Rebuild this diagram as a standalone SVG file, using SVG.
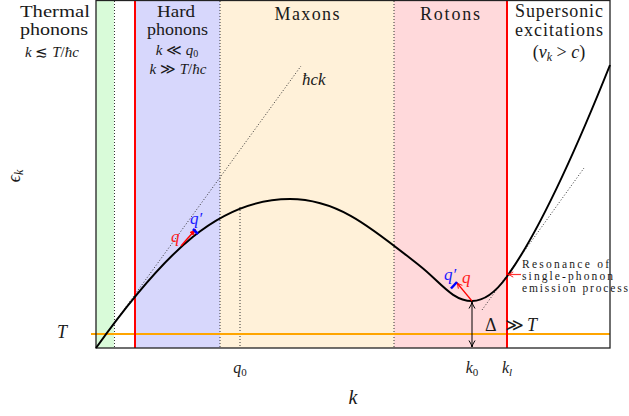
<svg xmlns="http://www.w3.org/2000/svg" width="629" height="416" viewBox="0 0 629 416">
<defs>
<style>
.t{font-family:"Liberation Serif","DejaVu Serif",serif;fill:#1a1a1a}
.reg{font-size:18px;text-anchor:middle}
.reg2{font-size:16px;text-anchor:middle}
.m{font-style:italic}
.dot{stroke:#333;stroke-width:1;stroke-dasharray:1 2;fill:none}
.redl{stroke:#ff0000;stroke-width:2}
</style>
<marker id="ah" viewBox="0 0 8 8" refX="7.5" refY="4" markerWidth="8" markerHeight="8" orient="auto-start-reverse" markerUnits="userSpaceOnUse">
<path d="M1,1 Q5,3.6 7.5,4 Q5,4.4 1,7" fill="none" stroke="#000" stroke-width="1"/>
</marker>
<marker id="ahr" viewBox="0 0 8 8" refX="7" refY="4" markerWidth="7" markerHeight="7" orient="auto" markerUnits="userSpaceOnUse">
<path d="M0,1 L8,4 L0,7 Z" fill="#ff0000"/>
</marker>
<marker id="ahr2" viewBox="0 0 8 8" refX="7" refY="4" markerWidth="7" markerHeight="7" orient="auto" markerUnits="userSpaceOnUse">
<path d="M1,1 Q5,3.6 7.5,4 Q5,4.4 1,7" fill="none" stroke="#ff0000" stroke-width="1"/>
</marker>
</defs>
<rect width="629" height="416" fill="#ffffff"/>
<g id="regions">
<rect x="96" y="0" width="18" height="348" fill="#d9fbd9"/>
<rect x="135" y="0" width="85" height="348" fill="#d7d7fc"/>
<rect x="220" y="0" width="174" height="348" fill="#fff1d9"/>
<rect x="394" y="0" width="113" height="348" fill="#ffd9db"/>
</g>
<g id="guides">
<line class="dot" x1="114.5" y1="1" x2="114.5" y2="348"/>
<line class="dot" x1="220" y1="1" x2="220" y2="348"/>
<line class="dot" x1="394" y1="1" x2="394" y2="348"/>
<line class="dot" x1="240" y1="207" x2="240" y2="348"/>
<line class="dot" x1="96" y1="348" x2="301" y2="66"/>
<line class="dot" x1="482" y1="310" x2="584" y2="168"/>
<line x1="91" y1="334" x2="610" y2="334" stroke="#ffa500" stroke-width="2"/>
<line class="redl" x1="135" y1="0" x2="135" y2="348"/>
<line class="redl" x1="507" y1="0" x2="507" y2="348"/>
</g>
<rect id="frame" x="96" y="0.5" width="514" height="347.5" fill="none" stroke="#222" stroke-width="1.3"/>
<path id="dispersion" d="M96,348 C166,250 220,199 290,199 C340,199 375,231 420,266 C440,281.6 452,301 472,301 C484,301 495,293.2 507,276.5 C542,227.8 580,140 610,65" fill="none" stroke="#000" stroke-width="2"/>
<g id="connectors">
<line x1="181" y1="246" x2="195.5" y2="229.5" stroke="#ff0000" stroke-width="1.5" marker-end="url(#ahr)"/>
<line x1="193" y1="229" x2="198" y2="234" stroke="#0000ff" stroke-width="2.5"/>
<line x1="472" y1="301" x2="457" y2="283" stroke="#ff0000" stroke-width="1.2" marker-end="url(#ahr2)"/>
<line x1="451" y1="288.5" x2="457" y2="282" stroke="#0000ff" stroke-width="2.5"/>
<line x1="472" y1="302" x2="472" y2="347" stroke="#000" stroke-width="1" marker-start="url(#ah)" marker-end="url(#ah)"/>
<line x1="521" y1="274.5" x2="508" y2="274.5" stroke="#ff3030" stroke-width="1.2" marker-end="url(#ahr2)"/>
</g>
<g id="label-thermal" class="t">
<text class="reg2" x="55" y="17" textLength="70" lengthAdjust="spacingAndGlyphs">Thermal</text>
<text class="reg2" x="54" y="35" textLength="68" lengthAdjust="spacingAndGlyphs">phonons</text>
<text x="52" y="57" font-size="15" text-anchor="middle"><tspan class="m">k</tspan> ≲ <tspan class="m">T</tspan>/<tspan class="m">ħc</tspan></text>
</g>
<g id="label-hard" class="t">
<text class="reg2" x="176" y="17" textLength="38" lengthAdjust="spacingAndGlyphs">Hard</text>
<text class="reg2" x="177.5" y="35" textLength="61" lengthAdjust="spacingAndGlyphs">phonons</text>
<text x="177" y="55" font-size="15" text-anchor="middle"><tspan class="m">k</tspan> ≪ <tspan class="m">q</tspan><tspan font-size="10" dy="2">0</tspan></text>
<text x="178" y="74" font-size="15" text-anchor="middle"><tspan class="m">k</tspan> ≫ <tspan class="m">T</tspan>/<tspan class="m">ħc</tspan></text>
</g>
<g id="label-maxons" class="t"><text class="reg" x="307" y="20" textLength="65" lengthAdjust="spacing">Maxons</text></g>
<g id="label-rotons" class="t"><text class="reg" x="450" y="20" textLength="60" lengthAdjust="spacing">Rotons</text></g>
<g id="label-supersonic" class="t">
<text class="reg" x="559" y="17" textLength="88" lengthAdjust="spacing">Supersonic</text>
<text class="reg" x="559" y="36" textLength="88" lengthAdjust="spacing">excitations</text>
<text x="559" y="58" font-size="18" text-anchor="middle">(<tspan class="m">v</tspan><tspan class="m" font-size="12" dy="3">k</tspan><tspan dy="-3"> &gt; </tspan><tspan class="m">c</tspan>)</text>
</g>
<g id="axis-labels" class="t">
<text class="m" x="302" y="85" font-size="17">ħck</text>
<text transform="translate(20,176) rotate(-90)" font-size="18" text-anchor="middle"><tspan class="m">ϵ</tspan><tspan class="m" font-size="12" dy="3">k</tspan></text>
<text class="m" x="62" y="338" font-size="18" text-anchor="middle">T</text>
<text x="240" y="373" font-size="16" text-anchor="middle"><tspan class="m">q</tspan><tspan font-size="11" dy="3">0</tspan></text>
<text x="472" y="373" font-size="16" text-anchor="middle"><tspan class="m">k</tspan><tspan font-size="11" dy="3">0</tspan></text>
<text x="507" y="373" font-size="16" text-anchor="middle"><tspan class="m">k</tspan><tspan class="m" font-size="11" dy="3">l</tspan></text>
<text class="m" x="353" y="404" font-size="20" text-anchor="middle">k</text>
<text x="485" y="331" font-size="18">Δ</text>
<text x="505" y="331" font-size="18">≫</text>
<text class="m" x="527" y="331" font-size="18">T</text>
</g>
<g id="label-resonance" class="t" font-size="11.5" fill="#333">
<text x="522" y="268" textLength="87" lengthAdjust="spacing">Resonance of</text>
<text x="522" y="280" textLength="91" lengthAdjust="spacing">single-phonon</text>
<text x="522" y="292" textLength="106" lengthAdjust="spacing">emission process</text>
</g>
<g id="label-q" font-family="Liberation Serif, DejaVu Serif, serif" font-style="italic" font-size="17">
<text x="171" y="242" fill="#ff1a1a">q</text>
<text x="190" y="224" fill="#1a1aff">q′</text>
<text x="444" y="280" fill="#1a1aff">q′</text>
<text x="462" y="283" fill="#ff1a1a">q</text>
</g>
</svg>
